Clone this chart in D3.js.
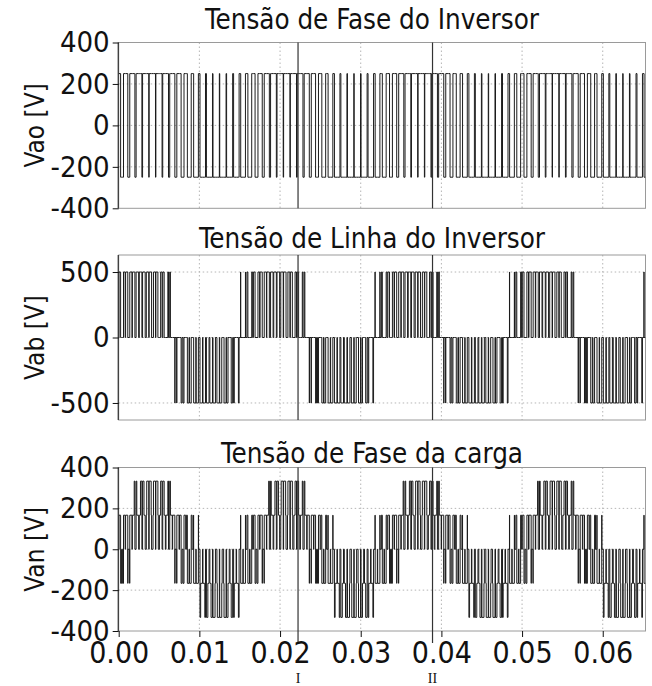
<!DOCTYPE html>
<html>
<head>
<meta charset="utf-8">
<script src="https://cdn.jsdelivr.net/npm/d3@7"></script>
<style>
  body { margin: 0; background: #fff; }
  text { font-family: "DejaVu Sans Condensed", "DejaVu Sans", sans-serif; fill: #111; }
</style>
</head>
<body>
<svg id="chart" width="652" height="686"></svg>
<script>
// Three-phase two-level inverter, sine-triangle PWM
const fundamentalHz = 60;
const carriersPerCycle = 20;      // 1200 Hz carrier
const dcLinkVoltage = 500;
const cyclesShown = 4;

// Fraction of each carrier period that each pole spends at +Vdc/2 (one fundamental cycle)
const dutyA = [0.570, 0.704, 0.818, 0.901, 0.944, 0.944, 0.901, 0.818, 0.704, 0.570,
               0.430, 0.296, 0.182, 0.099, 0.056, 0.056, 0.099, 0.182, 0.296, 0.430];
const dutyB = [0.080, 0.051, 0.065, 0.123, 0.217, 0.339, 0.476, 0.616, 0.745, 0.850,
               0.920, 0.949, 0.935, 0.877, 0.783, 0.661, 0.524, 0.384, 0.255, 0.150];
const dutyC = [0.850, 0.745, 0.616, 0.476, 0.339, 0.217, 0.123, 0.065, 0.051, 0.080,
               0.150, 0.255, 0.384, 0.524, 0.661, 0.783, 0.877, 0.935, 0.949, 0.920];

const timeDomain = [0, 0.0653];
const timeTicks = [0, 0.01, 0.02, 0.03, 0.04, 0.05, 0.06];
const markerTimes = [0.02223, 0.0389];
const markerLabels = ["I", "II"];

const panelTitles = ["Tensão de Fase do Inversor", "Tensão de Linha do Inversor", "Tensão de Fase da carga"];
const panelYLabels = ["Vao [V]", "Vab [V]", "Van [V]"];
const panelYDomains = [[-400, 400], [-630, 630], [-400, 400]];
const panelYTicks = [[-400, -200, 0, 200, 400], [-500, 0, 500], [-400, -200, 0, 200, 400]];
const panelRanges = [[208.3, 42.5], [420, 255], [631, 467.5]];
const titleBaselines = [29, 248, 463];

const svg = d3.select("#chart");
const left = 118.7, right = 645.5;
const x = d3.scaleLinear().domain(timeDomain).range([left, right]);

// ---- switching waveforms ----
const T = 1 / (fundamentalHz * carriersPerCycle);
const poles = [dutyA, dutyB, dutyC];

function poleState(duty, t) {
  const idx = Math.floor(t / T);
  const k = ((idx % carriersPerCycle) + carriersPerCycle) % carriersPerCycle;
  const mid = (idx + 0.5) * T;
  const half = (1 - duty[k]) * T / 2;
  return Math.abs(t - mid) < half ? -1 : 1;
}

const edgeTimes = [timeDomain[0]];
for (const duty of poles) {
  for (let i = 0; i < cyclesShown * carriersPerCycle; i++) {
    const k = i % carriersPerCycle;
    const mid = (i + 0.5) * T, half = (1 - duty[k]) * T / 2;
    for (const e of [mid - half, mid + half]) {
      if (e > timeDomain[0] && e < timeDomain[1]) edgeTimes.push(e);
    }
  }
}
edgeTimes.sort((a, b) => a - b);

const halfDc = dcLinkVoltage / 2;
function seriesFrom(fn) {
  const pts = edgeTimes.map(t => {
    const s = poles.map(d => poleState(d, t + 1e-9));
    return [t, fn(s)];
  });
  pts.push([timeDomain[1], pts[pts.length - 1][1]]);
  return pts;
}
const vao = seriesFrom(s => halfDc * s[0]);
const vab = seriesFrom(s => halfDc * (s[0] - s[1]));
const van = seriesFrom(s => halfDc * (2 * s[0] - s[1] - s[2]) / 3);
const panelSeries = [vao, vab, van];

// ---- panels ----
panelSeries.forEach((series, p) => {
  const [yBottom, yTop] = panelRanges[p];
  const y = d3.scaleLinear().domain(panelYDomains[p]).range([yBottom, yTop]);
  const g = svg.append("g");

  g.append("clipPath").attr("id", "clip" + p)
    .append("rect").attr("x", left).attr("y", yTop)
    .attr("width", right - left).attr("height", yBottom - yTop);

  // dotted grid
  const grid = g.append("g").attr("stroke", "#b5b5b5").attr("stroke-width", 1)
    .attr("stroke-dasharray", "1.5,2.5");
  timeTicks.filter(t => t > 0).forEach(t => {
    grid.append("line").attr("x1", x(t)).attr("x2", x(t)).attr("y1", yTop).attr("y2", yBottom);
  });
  panelYTicks[p].filter(v => v > panelYDomains[p][0] && v < panelYDomains[p][1]).forEach(v => {
    grid.append("line").attr("x1", left).attr("x2", right).attr("y1", y(v)).attr("y2", y(v));
  });

  // frame
  g.append("rect").attr("x", left).attr("y", yTop).attr("width", right - left)
    .attr("height", yBottom - yTop).attr("fill", "none").attr("stroke", "#9a9a9a").attr("stroke-width", 1);

  // waveform
  const line = d3.line().x(d => x(d[0])).y(d => y(d[1])).curve(d3.curveStepAfter);
  g.append("path").datum(series).attr("clip-path", `url(#clip${p})`)
    .attr("d", line).attr("fill", "none").attr("stroke", "#1c1c1c").attr("stroke-width", 1);

  // event markers
  markerTimes.forEach(t => {
    g.append("line").attr("x1", x(t)).attr("x2", x(t)).attr("y1", yTop)
      .attr("y2", p === 2 ? yBottom + 12 : yBottom)
      .attr("stroke", "#333").attr("stroke-width", 1.2);
  });

  // y axis
  const yAxis = d3.axisLeft(y).tickValues(panelYTicks[p]).tickSize(6).tickPadding(3).tickFormat(d3.format("d"));
  const ya = g.append("g").attr("transform", `translate(${left},0)`).call(yAxis);
  ya.select(".domain").attr("stroke", "#111").attr("d", `M-0.5,${yTop}V${yBottom}`);
  ya.selectAll(".tick line").attr("stroke", "#111");
  ya.selectAll(".tick text").style("font-size", "29px").attr("fill", "#111")
    .text(d => d < 0 ? "-" + Math.abs(d) : d);

  // y label
  g.append("text").attr("transform", `translate(${44},${(yTop + yBottom) / 2}) rotate(-90)`)
    .attr("text-anchor", "middle").style("font-size", "26px").text(panelYLabels[p]);

  // title
  g.append("text").attr("x", 372).attr("y", titleBaselines[p]).attr("text-anchor", "middle")
    .style("font-size", "27.5px").text(panelTitles[p]);

  // x axis only on the lowest panel
  if (p === 2) {
    const xAxis = d3.axisBottom(x).tickValues(timeTicks).tickSize(6).tickPadding(5).tickFormat(d3.format(".2f"));
    const xa = g.append("g").attr("transform", `translate(0,${yBottom})`).call(xAxis);
    xa.select(".domain").remove();
    xa.selectAll(".tick line").attr("stroke", "#111");
    xa.selectAll(".tick text").style("font-size", "30px").attr("fill", "#111");
    markerTimes.forEach((t, i) => {
      g.append("text").attr("x", x(t)).attr("y", 683).attr("text-anchor", "middle")
        .style("font-family", "'Liberation Serif', serif").style("font-size", "14px")
        .text(markerLabels[i]);
    });
  }
});
</script>
</body>
</html>
